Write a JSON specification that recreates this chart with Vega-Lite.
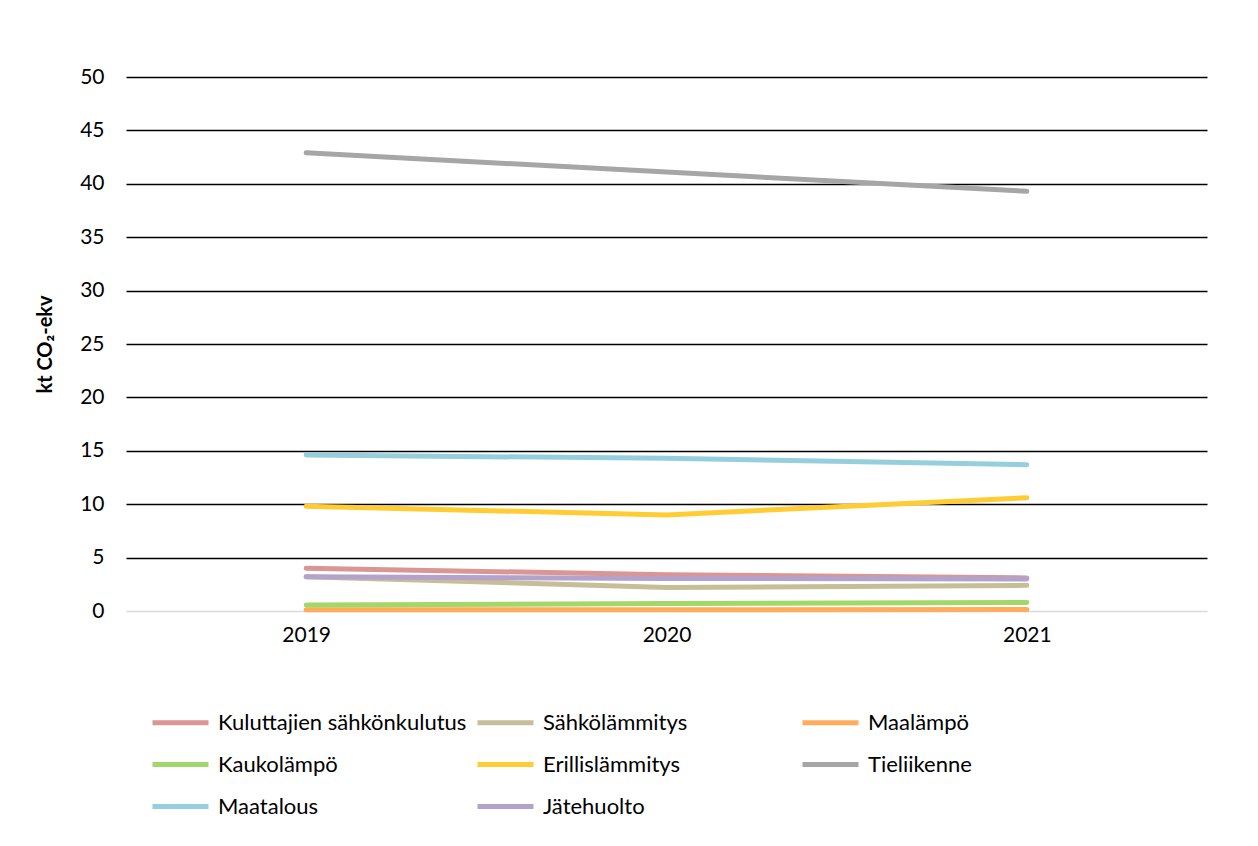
{
  "$schema": "https://vega.github.io/schema/vega-lite/v6.json",
  "width": 1081,
  "height": 534,
  "autosize": {"type": "none"},
  "padding": {"left": 126, "top": 77, "right": 51, "bottom": 235},
  "background": "white",
  "config": {"view": {"stroke": null}, "font": "Lato"},
  "data": {"values": [
    {"year": "2019", "series": "Kuluttajien sähkönkulutus", "value": 4.0},
    {"year": "2020", "series": "Kuluttajien sähkönkulutus", "value": 3.4},
    {"year": "2021", "series": "Kuluttajien sähkönkulutus", "value": 3.1},
    {"year": "2019", "series": "Sähkölämmitys", "value": 3.2},
    {"year": "2020", "series": "Sähkölämmitys", "value": 2.2},
    {"year": "2021", "series": "Sähkölämmitys", "value": 2.4},
    {"year": "2019", "series": "Maalämpö", "value": 0.12},
    {"year": "2020", "series": "Maalämpö", "value": 0.12},
    {"year": "2021", "series": "Maalämpö", "value": 0.13},
    {"year": "2019", "series": "Kaukolämpö", "value": 0.56},
    {"year": "2020", "series": "Kaukolämpö", "value": 0.7},
    {"year": "2021", "series": "Kaukolämpö", "value": 0.8},
    {"year": "2019", "series": "Erillislämmitys", "value": 9.8},
    {"year": "2020", "series": "Erillislämmitys", "value": 9.0},
    {"year": "2021", "series": "Erillislämmitys", "value": 10.6},
    {"year": "2019", "series": "Tieliikenne", "value": 42.9},
    {"year": "2020", "series": "Tieliikenne", "value": 41.1},
    {"year": "2021", "series": "Tieliikenne", "value": 39.3},
    {"year": "2019", "series": "Maatalous", "value": 14.6},
    {"year": "2020", "series": "Maatalous", "value": 14.3},
    {"year": "2021", "series": "Maatalous", "value": 13.7},
    {"year": "2019", "series": "Jätehuolto", "value": 3.2},
    {"year": "2020", "series": "Jätehuolto", "value": 3.05},
    {"year": "2021", "series": "Jätehuolto", "value": 3.0}
  ]},
  "mark": {"type": "line", "strokeWidth": 5, "strokeCap": "round", "strokeJoin": "round"},
  "encoding": {
    "x": {
      "field": "year", "type": "ordinal",
      "scale": {"type": "point", "padding": 0.5},
      "axis": {"title": null, "labelAngle": 0, "ticks": false, "domain": false, "grid": false,
               "labelFont": "Lato", "labelFontSize": 21, "labelColor": "#000", "labelPadding": 13}
    },
    "y": {
      "field": "value", "type": "quantitative",
      "scale": {"domain": [0, 50], "nice": false},
      "axis": {
        "values": [0, 5, 10, 15, 20, 25, 30, 35, 40, 45, 50],
        "title": "kt CO₂-ekv", "titleFont": "Lato", "titleFontSize": 20, "titleFontWeight": "bold",
        "titleColor": "#000", "titlePadding": 24,
        "ticks": false, "domain": false,
        "labelFont": "Lato", "labelFontSize": 21, "labelColor": "#000", "labelPadding": 22,
        "gridColor": {"condition": {"test": "datum.value === 0", "value": "#D9D9D9"}, "value": "#000000"},
        "gridWidth": 1.5
      }
    },
    "color": {
      "field": "series", "type": "nominal",
      "sort": ["Kuluttajien sähkönkulutus", "Sähkölämmitys", "Maalämpö", "Kaukolämpö", "Erillislämmitys", "Tieliikenne", "Maatalous", "Jätehuolto"],
      "scale": {
        "domain": ["Kuluttajien sähkönkulutus", "Sähkölämmitys", "Maalämpö", "Kaukolämpö", "Erillislämmitys", "Tieliikenne", "Maatalous", "Jätehuolto"],
        "range": ["#DA9694", "#C5BE97", "#FFAD5C", "#A2D86A", "#FFCC33", "#A6A6A6", "#95CFDD", "#B3A2CC"]
      },
      "legend": {
        "title": null, "orient": "none", "legendX": 24, "legendY": 615,
        "direction": "horizontal", "columns": 3, "gridAlign": "all",
        "symbolType": "stroke", "symbolSize": 3136, "symbolStrokeWidth": 5,
        "labelFont": "Lato", "labelFontSize": 22, "labelColor": "#000", "labelLimit": 400,
        "symbolOffset": 0, "labelOffset": 7, "columnPadding": 0, "rowPadding": -6, "padding": 0
      }
    }
  }
}
